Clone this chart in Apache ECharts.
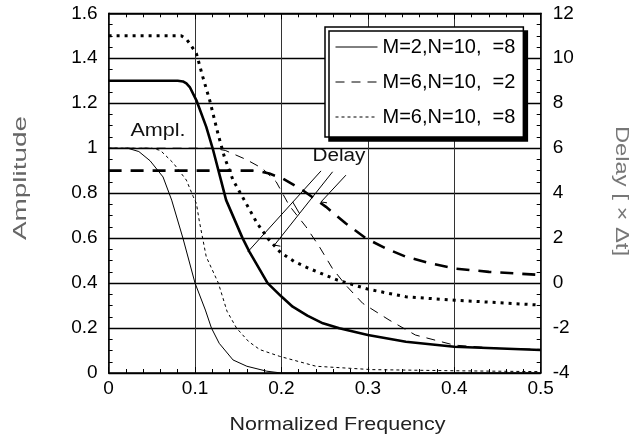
<!DOCTYPE html>
<html><head><meta charset="utf-8">
<script src="https://cdn.jsdelivr.net/npm/echarts@6/dist/echarts.min.js"></script>
<style>html,body{margin:0;padding:0;background:#fff}#c{width:633px;height:442px}</style>
</head><body><div id="c"></div>
<script>
// ---- names ----
const seriesNames = ['M=2,N=10,  =8', 'M=6,N=10,  =2', 'M=6,N=10,  =8'];
// ---- amplitude curves (left axis) [freq, amplitude] ----
const ampM2T8 = [[0,1],[0.022,1],[0.035,0.985],[0.048,0.944],[0.063,0.872],[0.073,0.769],[0.086,0.6],[0.1,0.4],[0.112,0.28],[0.119,0.2],[0.128,0.132],[0.144,0.058],[0.16,0.03],[0.183,0.008],[0.2,0],[0.5,0]];
const ampM6T2 = [[0,1],[0.12,1],[0.135,0.99],[0.159,0.95],[0.178,0.91],[0.194,0.85],[0.209,0.745],[0.2285,0.65],[0.244,0.561],[0.259,0.465],[0.2746,0.39],[0.294,0.31],[0.3245,0.236],[0.355,0.169],[0.4,0.124],[0.45,0.11],[0.5,0.105]];
const ampM6T8 = [[0,1],[0.05,1],[0.06,0.99],[0.0746,0.935],[0.09,0.858],[0.098,0.784],[0.1016,0.754],[0.105,0.675],[0.113,0.517],[0.127,0.4],[0.137,0.275],[0.148,0.2],[0.162,0.14],[0.175,0.104],[0.198,0.074],[0.24,0.03],[0.305,0.015],[0.4,0.01],[0.5,0.006]];
// ---- delay curves (right axis) [freq, delay] ----
const delayM2T8 = [[0,9],[0.08,9],[0.086,8.97],[0.09,8.88],[0.0939,8.72],[0.1016,8.13],[0.113,6.95],[0.121,5.91],[0.13,4.58],[0.136,3.69],[0.155,2.0],[0.163,1.39],[0.184,0.0],[0.2,-0.6],[0.213,-1.05],[0.23,-1.45],[0.248,-1.79],[0.267,-2.01],[0.3,-2.31],[0.344,-2.61],[0.4,-2.83],[0.5,-2.98]];
const delayM6T2 = [[0,5],[0.167,5],[0.176,4.96],[0.186,4.87],[0.2015,4.65],[0.2246,4.13],[0.2516,3.39],[0.2746,2.65],[0.2977,1.99],[0.321,1.54],[0.344,1.17],[0.37,0.9],[0.4,0.65],[0.44,0.5],[0.5,0.36]];
const delayM6T8 = [[0,11],[0.084,11],[0.09,10.85],[0.094,10.65],[0.1016,10.21],[0.109,9.17],[0.117,8.13],[0.1265,6.65],[0.134,5.61],[0.144,4.58],[0.157,3.69],[0.172,2.65],[0.185,1.95],[0.199,1.36],[0.215,0.95],[0.232,0.65],[0.265,0.13],[0.3,-0.27],[0.344,-0.61],[0.4,-0.76],[0.5,-0.98]];
// ---- annotation leader segments (data coords, amplitude axis) ----
const leaders = [
  [[0.2458,0.899],[0.1611,0.539]],
  [[0.2592,0.895],[0.1919,0.569]],
  [[0.1919,0.569],[0.1988,0.564]],
  [[0.2746,0.88],[0.2458,0.761]],
  [[0.2458,0.761],[0.2527,0.757]],
  [[0.2130,0.761],[0.2208,0.710]]
];
// ---- axes ----
const xMin = 0, xMax = 0.5, xStep = 0.1;
const ampMin = 0, ampMax = 1.6, ampStep = 0.2;
const delMin = -4, delMax = 12, delStep = 2;

const FONT = 'Liberation Sans';
const chart = echarts.init(document.getElementById('c'), null, {renderer:'canvas'});

function lineS(name, data, yIdx, width, type, z) {
  return {name, type:'line', data, yAxisIndex:yIdx, symbol:'none', showSymbol:false, smooth:false,
    lineStyle:{color:'#000', width, type}, itemStyle:{color:'#000'}, z: z||3, silent:true, animation:false};
}
const series = [
  lineS(seriesNames[0], ampM2T8, 0, 1, 'solid'),
  lineS(seriesNames[1], ampM6T2, 0, 1, [9,7]),
  lineS(seriesNames[2], ampM6T8, 0, 1, [3,3]),
  lineS('d1', delayM2T8, 1, 2.6, 'solid'),
  lineS('d2', delayM6T2, 1, 2.6, [13,9]),
  lineS('d3', delayM6T8, 1, 3, [3,5])
];
leaders.forEach((seg,i)=>series.push({name:'lead'+i, type:'line', data:seg, yAxisIndex:0, symbol:'none',
  lineStyle:{color:'#000', width:1}, silent:true, animation:false, z:2}));

const axisCommon = {
  axisLine:{show:true, onZero:false, lineStyle:{color:'#000', width:1.5}},
  axisTick:{show:true, inside:true, length:6, lineStyle:{color:'#000', width:1}},
  minorTick:{show:true, length:4, lineStyle:{color:'#000', width:1}},
  axisLabel:{fontFamily:FONT, fontSize:19, color:'#000'}
};

chart.setOption({
  animation:false,
  backgroundColor:'#fff',
  grid:{left:108.6, right:92.3, top:13.3, bottom:69},
  legend:{data:seriesNames, orient:'vertical', left:325, top:27, padding:[10,8,10,10], itemGap:15,
    itemWidth:42, itemHeight:14, backgroundColor:'#fff', borderColor:'#000', borderWidth:1.5,
    shadowColor:'#000', shadowBlur:0, shadowOffsetX:4, shadowOffsetY:4,
    itemStyle:{opacity:0, borderWidth:0},
    lineStyle:{width:1},
    textStyle:{fontFamily:FONT, fontSize:20, color:'#000'}, selectedMode:false},
  xAxis:[
    Object.assign({}, axisCommon, {type:'value', position:'bottom', min:xMin, max:xMax, interval:xStep,
      minorTick:Object.assign({}, axisCommon.minorTick, {splitNumber:5}),
      axisLabel:Object.assign({}, axisCommon.axisLabel, {margin:6}),
      splitLine:{show:true, lineStyle:{color:'#333', width:1}}}),
    Object.assign({}, axisCommon, {type:'value', position:'top', min:xMin, max:xMax, interval:xStep,
      minorTick:Object.assign({}, axisCommon.minorTick, {splitNumber:5}),
      axisLabel:{show:false}, splitLine:{show:false}})
  ],
  yAxis:[
    Object.assign({}, axisCommon, {type:'value', position:'left', min:ampMin, max:ampMax, interval:ampStep,
      minorTick:Object.assign({}, axisCommon.minorTick, {splitNumber:4}),
      axisLabel:Object.assign({}, axisCommon.axisLabel, {margin:11}),
      splitLine:{show:true, lineStyle:{color:'#000', width:1.3}}}),
    Object.assign({}, axisCommon, {type:'value', position:'right', min:delMin, max:delMax, interval:delStep,
      minorTick:Object.assign({}, axisCommon.minorTick, {splitNumber:4}),
      axisLabel:Object.assign({}, axisCommon.axisLabel, {margin:12}),
      splitLine:{show:false}})
  ],
  series,
  graphic:[
    {type:'text', x:21, y:178, rotation:Math.PI/2, scaleX:1.55, silent:true,
      style:{text:'Amplitude', fontFamily:FONT, fontSize:18, fill:'#666', align:'center', verticalAlign:'middle'}},
    {type:'text', x:621, y:191, rotation:-Math.PI/2, scaleX:1.32, silent:true,
      style:{text:'Delay [ × Δt]', fontFamily:FONT, fontSize:18, fill:'#777', align:'center', verticalAlign:'middle'}},
    {type:'text', x:337.5, y:425, scaleX:1.13, silent:true,
      style:{text:'Normalized Frequency', fontFamily:FONT, fontSize:19, fill:'#222', align:'center', verticalAlign:'middle'}},
    {type:'text', x:158, y:131.5, scaleX:1.2, silent:true,
      style:{text:'Ampl.', fontFamily:FONT, fontSize:18, fill:'#111', align:'center', verticalAlign:'middle'}},
    {type:'text', x:339, y:156, scaleX:1.15, silent:true,
      style:{text:'Delay', fontFamily:FONT, fontSize:18, fill:'#111', align:'center', verticalAlign:'middle'}}
  ]
});
</script></body></html>
